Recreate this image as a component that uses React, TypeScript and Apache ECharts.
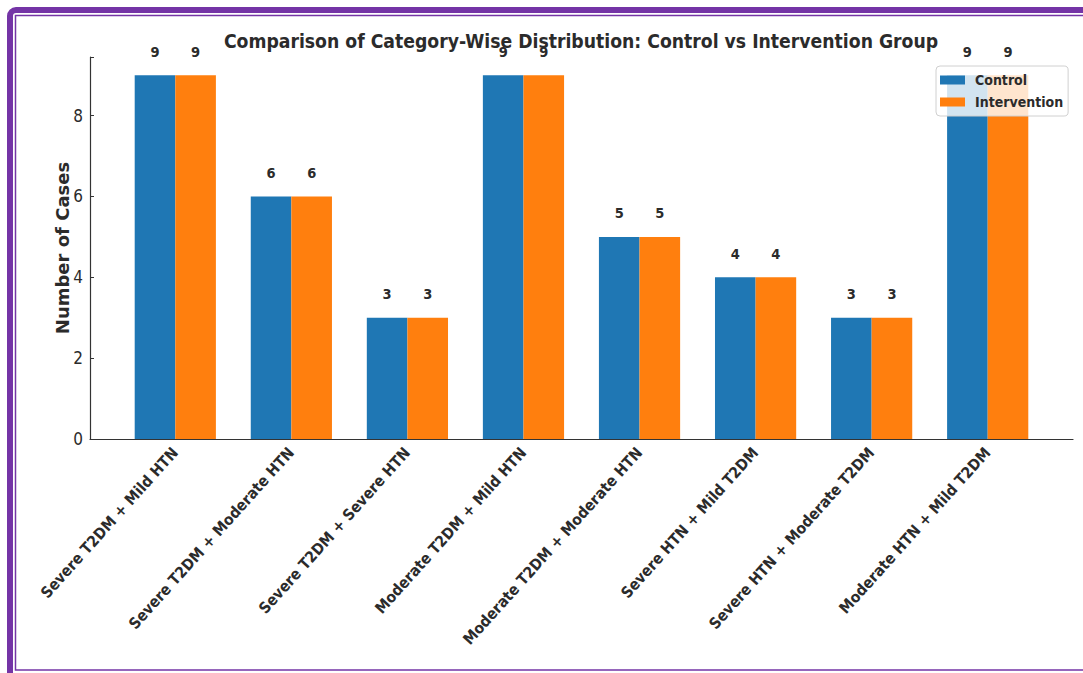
import React, { useEffect, useRef } from "react";
import * as echarts from "echarts";

// Category combinations shown along the x axis
const categories = [
  "Severe T2DM + Mild HTN",
  "Severe T2DM + Moderate HTN",
  "Severe T2DM + Severe HTN",
  "Moderate T2DM + Mild HTN",
  "Moderate T2DM + Moderate HTN",
  "Severe HTN + Mild T2DM",
  "Severe HTN + Moderate T2DM",
  "Moderate HTN + Mild T2DM",
];

// Number of cases per category in each group
const controlCases = [9, 6, 3, 9, 5, 4, 3, 9];
const interventionCases = [9, 6, 3, 9, 5, 4, 3, 9];

const yTicks = [0, 2, 4, 6, 8];

const CONDENSED = "'DejaVu Sans Condensed', 'DejaVu Sans', sans-serif";
const REGULAR = "'DejaVu Sans', sans-serif";
const TEXT = "#2b2b2b";
const FRAME = "#7434a6";

const valueLabel = {
  show: true,
  position: "top",
  distance: 16,
  fontFamily: CONDENSED,
  fontWeight: "bold",
  fontSize: 14.5,
  color: TEXT,
  formatter: (p: any) => String(p.value[1]),
};

export default function App() {
  const ref = useRef<HTMLDivElement>(null);

  useEffect(() => {
    if (!ref.current) return;
    const chart = echarts.init(ref.current, undefined, { renderer: "svg" });
    const positions = categories.map((_, i) => i);

    chart.setOption({
      animation: false,
      backgroundColor: "#ffffff",
      title: {
        text: "Comparison of Category-Wise Distribution: Control vs Intervention Group",
        left: 576,
        top: 27,
        textAlign: "center",
        textStyle: {
          fontFamily: CONDENSED,
          fontWeight: "bold",
          fontSize: 19.2,
          color: TEXT,
        },
      },
      legend: {
        left: 936,
        top: 66,
        orient: "vertical",
        icon: "rect",
        itemWidth: 25,
        itemHeight: 9,
        itemGap: 8,
        padding: [7, 5, 7, 4],
        backgroundColor: "rgba(255,255,255,0.8)",
        borderColor: "#d0d0d0",
        borderWidth: 1,
        borderRadius: 4,
        textStyle: {
          fontFamily: CONDENSED,
          fontWeight: "bold",
          fontSize: 14,
          color: TEXT,
          padding: [0, 0, 0, 5],
        },
        data: ["Control", "Intervention"],
      },
      grid: {
        left: 90,
        right: 10,
        top: 57,
        bottom: 234,
        containLabel: false,
      },
      xAxis: {
        type: "value",
        min: -0.735,
        max: 7.735,
        splitLine: { show: false },
        axisLine: { show: true, onZero: false, lineStyle: { color: "#333333", width: 1.2 } },
        axisTick: { show: false },
        axisLabel: {
          customValues: positions,
          rotate: 48,
          margin: 11,
          fontFamily: CONDENSED,
          fontWeight: "bold",
          fontSize: 15.5,
          color: TEXT,
          formatter: (v: number) => categories[Math.round(v)],
        },
      },
      yAxis: {
        type: "value",
        min: 0,
        max: 9.45,
        interval: 2,
        name: "Number of Cases",
        nameLocation: "middle",
        nameGap: 19,
        nameMoveOverlap: false,
        nameTextStyle: {
          fontFamily: REGULAR,
          fontWeight: "bold",
          fontSize: 18,
          color: TEXT,
        },
        splitLine: { show: false },
        axisLine: { show: true, onZero: false, lineStyle: { color: "#333333", width: 1.2 } },
        axisTick: {
          show: true,
          inside: true,
          length: 4,
          lineStyle: { color: "#333333" },
        },
        axisLabel: {
          customValues: yTicks,
          margin: 7,
          fontFamily: CONDENSED,
          fontSize: 17,
          color: TEXT,
        },
      },
      series: [
        {
          name: "Control",
          type: "bar",
          data: controlCases.map((v, i) => [i, v]),
          barWidth: 40.6,
          barGap: "0%",
          itemStyle: { color: "#1f77b4" },
          label: valueLabel,
        },
        {
          name: "Intervention",
          type: "bar",
          data: interventionCases.map((v, i) => [i, v]),
          barWidth: 40.6,
          barGap: "0%",
          itemStyle: { color: "#ff7f0e" },
          label: valueLabel,
        },
      ],
      graphic: [
        {
          type: "rect",
          silent: true,
          z: 100,
          shape: { x: 10, y: 10, width: 1200, height: 800, r: 6 },
          style: { fill: "none", stroke: FRAME, lineWidth: 6 },
        },
        {
          type: "rect",
          silent: true,
          z: 100,
          shape: { x: 15.5, y: 15.5, width: 1200, height: 654.5 },
          style: { fill: "none", stroke: FRAME, lineWidth: 1.5 },
        },
      ],
    });

    return () => chart.dispose();
  }, []);

  return (
    <div
      ref={ref}
      style={{ position: "fixed", left: 0, top: 0, width: 1083, height: 673, background: "#ffffff" }}
    />
  );
}
